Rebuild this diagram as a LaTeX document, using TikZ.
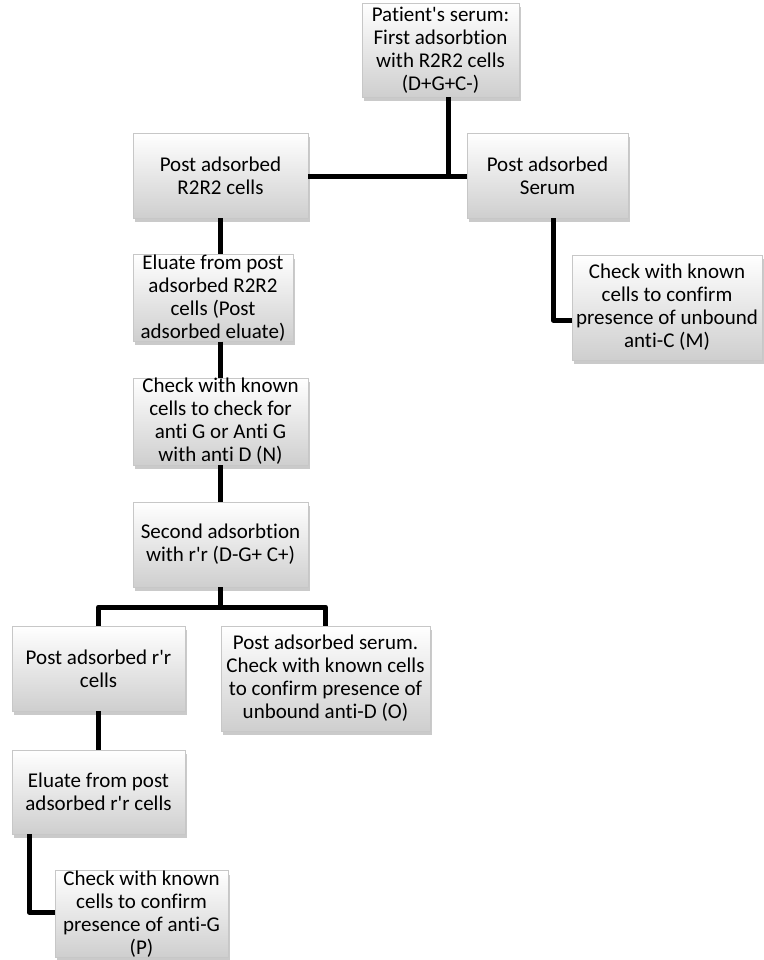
\documentclass[tikz,border=0pt]{standalone}
\usepackage{fontspec}
\setmainfont{Carlito}[Ligatures={TeXOff,CommonOff}]
\usetikzlibrary{shadows,calc}
\tikzset{
  box/.style={rectangle, inner sep=0pt, align=center, draw=black!22, line width=0.8pt,
    top color=white, bottom color=black!19,
    drop shadow={shadow xshift=2pt, shadow yshift=-4pt, opacity=0.35, fill=black!60},
    font=\fontsize{21}{23}\selectfont},
  conn/.style={line width=5pt, black, line join=round}
}
\begin{document}
\begin{tikzpicture}[x=1pt,y=-1pt]
\useasboundingbox (0,0) rectangle (763,960);
\node[box, minimum width=157pt, minimum height=94pt] (b1) at (440.5,50) {Patient's serum:\\First adsorbtion\\with R2R2 cells\\(D+G+C-)};
\node[box, minimum width=175pt, minimum height=85pt] (b2) at (220.5,175.5) {Post adsorbed\\R2R2 cells};
\node[box, minimum width=161pt, minimum height=85pt] (b3) at (547.5,175.5) {Post adsorbed\\Serum};
\node[box, minimum width=160pt, minimum height=84pt] (b4) at (213,298) {Eluate from post\\adsorbed R2R2\\cells (Post\\adsorbed eluate)};
\node[box, minimum width=175pt, minimum height=87pt] (b5) at (220.5,421.5) {Check with known\\cells to check for\\anti G or Anti G\\with anti D (N)};
\node[box, minimum width=175pt, minimum height=85pt] (b6) at (220.5,544.5) {Second adsorbtion\\with r'r (D-G+ C+)};
\node[box, minimum width=173pt, minimum height=85pt] (b7) at (98.5,668.5) {Post adsorbed r'r\\cells};
\node[box, minimum width=209pt, minimum height=105pt] (b8) at (325.5,678.5) {Post adsorbed serum.\\Check with known cells\\to confirm presence of\\unbound anti-D (O)};
\node[box, minimum width=173pt, minimum height=84pt] (b9) at (98.5,792) {Eluate from post\\adsorbed r'r cells};
\node[box, minimum width=173pt, minimum height=84pt] (b10) at (141.5,914) {Check with known\\cells to confirm\\presence of anti-G\\(P)};
\node[box, minimum width=190pt, minimum height=105pt] (b11) at (667,307.5) {Check with known\\cells to confirm\\presence of unbound\\anti-C (M)};
% connectors
\coordinate (j1) at (448,177);
\coordinate (j2) at (220,607);
\coordinate (j3) at (29,912);
\coordinate (j4) at (553,320);
\coordinate (c2) at (220,0);
\draw[conn] (b1.south -| j1) -- (j1);
\draw[conn] (b2.east |- j1) -- (b3.west |- j1);
\draw[conn] (b2.south -| c2) -- (b4.north -| c2);
\draw[conn] (b4.south -| c2) -- (b5.north -| c2);
\draw[conn] (b5.south -| c2) -- (b6.north -| c2);
\draw[conn] (b6.south -| c2) -- (j2);
\draw[conn] (b7.north) |- (j2) -| (b8.north);
\draw[conn] (b7.south) -- (b9.north);
\draw[conn] (b9.south -| j3) |- (b10.west |- j3);
\draw[conn] (b3.south -| j4) |- (b11.west |- j4);
\end{tikzpicture}
\end{document}
